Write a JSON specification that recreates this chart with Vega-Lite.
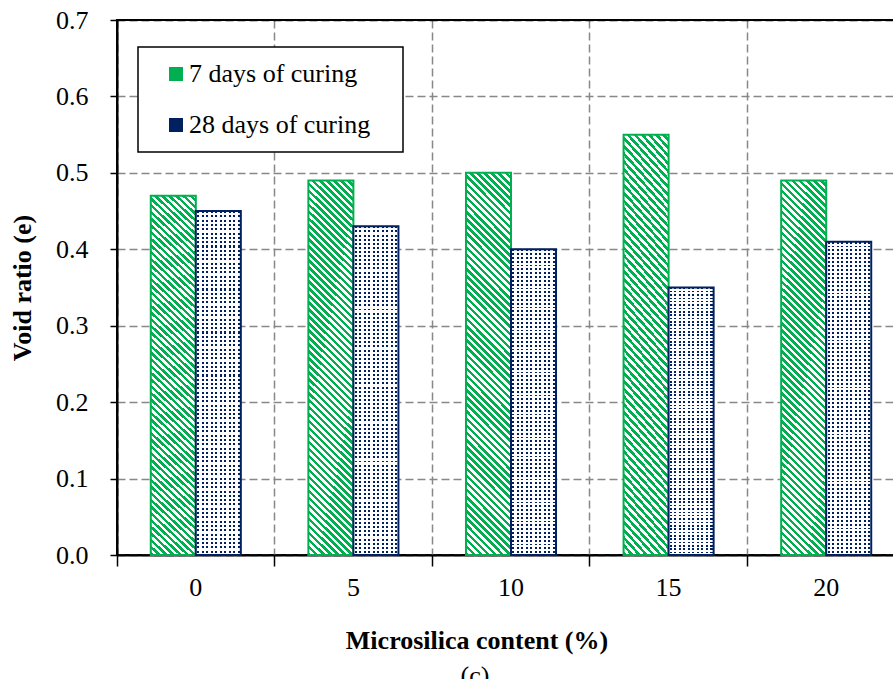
{
  "$schema": "https://vega.github.io/schema/vega-lite/v6.json",
  "width": 788,
  "height": 535,
  "autosize": "none",
  "padding": {"left": 117, "top": 20, "right": 0, "bottom": 124},
  "background": "white",
  "config": {"view": {"stroke": "black", "strokeWidth": 2}, "font": "Liberation Serif", "legend": {"labelFont": "Liberation Serif"}},
  "title": {"text": "(c)", "orient": "bottom", "anchor": "middle", "dx": -36, "offset": 10, "fontSize": 26, "fontWeight": "normal", "font": "Liberation Serif", "color": "black"},
  "data": {"values": [
    {"content": 0, "series": "7 days of curing", "e": 0.47},
    {"content": 0, "series": "28 days of curing", "e": 0.45},
    {"content": 5, "series": "7 days of curing", "e": 0.49},
    {"content": 5, "series": "28 days of curing", "e": 0.43},
    {"content": 10, "series": "7 days of curing", "e": 0.50},
    {"content": 10, "series": "28 days of curing", "e": 0.40},
    {"content": 15, "series": "7 days of curing", "e": 0.55},
    {"content": 15, "series": "28 days of curing", "e": 0.35},
    {"content": 20, "series": "7 days of curing", "e": 0.49},
    {"content": 20, "series": "28 days of curing", "e": 0.41}
  ]},
  "encoding": {
    "x": {
      "field": "content", "type": "ordinal",
      "scale": {"paddingInner": 0, "paddingOuter": 0},
      "axis": {
        "title": "Microsilica content (%)", "titleFont": "Liberation Serif", "titleFontSize": 26, "titleFontWeight": "bold", "titleColor": "black",
        "titleX": 359.5, "titleY": 93, "titleBaseline": "alphabetic", "titleAlign": "center",
        "labelAngle": 0, "labelFont": "Liberation Serif", "labelFontSize": 26, "labelColor": "black", "labelPadding": 8,
        "bandPosition": 0, "tickSize": 11, "tickColor": "black", "tickWidth": 1.5, "domainColor": "black", "domainWidth": 2,
        "grid": true, "gridColor": {"condition": {"test": "datum.value == 0", "value": "black"}, "value": "#888888"}, "gridDash": [8, 4], "gridWidth": 1.5
      }
    },
    "xOffset": {"field": "series", "type": "nominal", "scale": {"domain": ["7 days of curing", "28 days of curing"], "paddingInner": 0, "paddingOuter": 0.75}},
    "y": {
      "field": "e", "type": "quantitative",
      "scale": {"domain": [0, 0.7], "nice": false},
      "axis": {
        "title": "Void ratio (e)", "titleFont": "Liberation Serif", "titleFontSize": 26, "titleFontWeight": "bold", "titleColor": "black", "titlePadding": 20,
        "values": [0, 0.1, 0.2, 0.3, 0.4, 0.5, 0.6, 0.7], "format": ".1f",
        "labelFont": "Liberation Serif", "labelFontSize": 26, "labelColor": "black", "labelPadding": 22,
        "tickSize": 7, "tickColor": "black", "tickWidth": 1.5, "domainColor": "black", "domainWidth": 2,
        "grid": true, "gridColor": {"condition": {"test": "datum.value >= 0.69", "value": "black"}, "value": "#888888"}, "gridDash": [8, 4], "gridWidth": 1.5
      }
    }
  },
  "layer": [
    {
      "mark": {"type": "bar"},
      "encoding": {
        "color": {
          "field": "series", "type": "nominal",
          "scale": {"domain": ["7 days of curing", "28 days of curing"], "range": ["#00B050", "#002060"]},
          "legend": {
            "title": "i", "titleOrient": "right", "titleFontSize": 10, "titleOpacity": 0, "titlePadding": 16,
            "orient": "none", "legendX": 21, "legendY": 27, "direction": "vertical",
            "fillColor": "white", "strokeColor": "black", "padding": 14,
            "symbolType": "square", "symbolSize": 196, "symbolOffset": 11, "symbolStrokeWidth": 0,
            "labelFont": "Liberation Serif", "labelFontSize": 26, "labelColor": "black", "labelOffset": 0, "labelLimit": 400,
            "rowPadding": 25,
            "encode": {"legend": {"update": {"strokeWidth": {"value": 1.5}}}}
          }
        }
      }
    },
    {
      "transform": [{"filter": "datum.series === '7 days of curing'"}],
      "mark": {
        "type": "bar", "stroke": "#00B050", "strokeWidth": 2,
        "fill": {"gradient": "linear", "x1": 0, "y1": 1, "x2": 0.1306, "y2": -0.103, "stops": [
          {"offset":0,"color":"#00B050"},
          {"offset":0.0083,"color":"#00B050"},{"offset":0.0083,"color":"#fff"},
          {"offset":0.0167,"color":"#fff"},{"offset":0.0167,"color":"#00B050"},
          {"offset":0.025,"color":"#00B050"},{"offset":0.025,"color":"#fff"},
          {"offset":0.0333,"color":"#fff"},{"offset":0.0333,"color":"#00B050"},
          {"offset":0.0417,"color":"#00B050"},{"offset":0.0417,"color":"#fff"},
          {"offset":0.05,"color":"#fff"},{"offset":0.05,"color":"#00B050"},
          {"offset":0.0583,"color":"#00B050"},{"offset":0.0583,"color":"#fff"},
          {"offset":0.0667,"color":"#fff"},{"offset":0.0667,"color":"#00B050"},
          {"offset":0.075,"color":"#00B050"},{"offset":0.075,"color":"#fff"},
          {"offset":0.0833,"color":"#fff"},{"offset":0.0833,"color":"#00B050"},
          {"offset":0.0917,"color":"#00B050"},{"offset":0.0917,"color":"#fff"},
          {"offset":0.1,"color":"#fff"},{"offset":0.1,"color":"#00B050"},
          {"offset":0.1083,"color":"#00B050"},{"offset":0.1083,"color":"#fff"},
          {"offset":0.1167,"color":"#fff"},{"offset":0.1167,"color":"#00B050"},
          {"offset":0.125,"color":"#00B050"},{"offset":0.125,"color":"#fff"},
          {"offset":0.1333,"color":"#fff"},{"offset":0.1333,"color":"#00B050"},
          {"offset":0.1417,"color":"#00B050"},{"offset":0.1417,"color":"#fff"},
          {"offset":0.15,"color":"#fff"},{"offset":0.15,"color":"#00B050"},
          {"offset":0.1583,"color":"#00B050"},{"offset":0.1583,"color":"#fff"},
          {"offset":0.1667,"color":"#fff"},{"offset":0.1667,"color":"#00B050"},
          {"offset":0.175,"color":"#00B050"},{"offset":0.175,"color":"#fff"},
          {"offset":0.1833,"color":"#fff"},{"offset":0.1833,"color":"#00B050"},
          {"offset":0.1917,"color":"#00B050"},{"offset":0.1917,"color":"#fff"},
          {"offset":0.2,"color":"#fff"},{"offset":0.2,"color":"#00B050"},
          {"offset":0.2083,"color":"#00B050"},{"offset":0.2083,"color":"#fff"},
          {"offset":0.2167,"color":"#fff"},{"offset":0.2167,"color":"#00B050"},
          {"offset":0.225,"color":"#00B050"},{"offset":0.225,"color":"#fff"},
          {"offset":0.2333,"color":"#fff"},{"offset":0.2333,"color":"#00B050"},
          {"offset":0.2417,"color":"#00B050"},{"offset":0.2417,"color":"#fff"},
          {"offset":0.25,"color":"#fff"},{"offset":0.25,"color":"#00B050"},
          {"offset":0.2583,"color":"#00B050"},{"offset":0.2583,"color":"#fff"},
          {"offset":0.2667,"color":"#fff"},{"offset":0.2667,"color":"#00B050"},
          {"offset":0.275,"color":"#00B050"},{"offset":0.275,"color":"#fff"},
          {"offset":0.2833,"color":"#fff"},{"offset":0.2833,"color":"#00B050"},
          {"offset":0.2917,"color":"#00B050"},{"offset":0.2917,"color":"#fff"},
          {"offset":0.3,"color":"#fff"},{"offset":0.3,"color":"#00B050"},
          {"offset":0.3083,"color":"#00B050"},{"offset":0.3083,"color":"#fff"},
          {"offset":0.3167,"color":"#fff"},{"offset":0.3167,"color":"#00B050"},
          {"offset":0.325,"color":"#00B050"},{"offset":0.325,"color":"#fff"},
          {"offset":0.3333,"color":"#fff"},{"offset":0.3333,"color":"#00B050"},
          {"offset":0.3417,"color":"#00B050"},{"offset":0.3417,"color":"#fff"},
          {"offset":0.35,"color":"#fff"},{"offset":0.35,"color":"#00B050"},
          {"offset":0.3583,"color":"#00B050"},{"offset":0.3583,"color":"#fff"},
          {"offset":0.3667,"color":"#fff"},{"offset":0.3667,"color":"#00B050"},
          {"offset":0.375,"color":"#00B050"},{"offset":0.375,"color":"#fff"},
          {"offset":0.3833,"color":"#fff"},{"offset":0.3833,"color":"#00B050"},
          {"offset":0.3917,"color":"#00B050"},{"offset":0.3917,"color":"#fff"},
          {"offset":0.4,"color":"#fff"},{"offset":0.4,"color":"#00B050"},
          {"offset":0.4083,"color":"#00B050"},{"offset":0.4083,"color":"#fff"},
          {"offset":0.4167,"color":"#fff"},{"offset":0.4167,"color":"#00B050"},
          {"offset":0.425,"color":"#00B050"},{"offset":0.425,"color":"#fff"},
          {"offset":0.4333,"color":"#fff"},{"offset":0.4333,"color":"#00B050"},
          {"offset":0.4417,"color":"#00B050"},{"offset":0.4417,"color":"#fff"},
          {"offset":0.45,"color":"#fff"},{"offset":0.45,"color":"#00B050"},
          {"offset":0.4583,"color":"#00B050"},{"offset":0.4583,"color":"#fff"},
          {"offset":0.4667,"color":"#fff"},{"offset":0.4667,"color":"#00B050"},
          {"offset":0.475,"color":"#00B050"},{"offset":0.475,"color":"#fff"},
          {"offset":0.4833,"color":"#fff"},{"offset":0.4833,"color":"#00B050"},
          {"offset":0.4917,"color":"#00B050"},{"offset":0.4917,"color":"#fff"},
          {"offset":0.5,"color":"#fff"},{"offset":0.5,"color":"#00B050"},
          {"offset":0.5083,"color":"#00B050"},{"offset":0.5083,"color":"#fff"},
          {"offset":0.5167,"color":"#fff"},{"offset":0.5167,"color":"#00B050"},
          {"offset":0.525,"color":"#00B050"},{"offset":0.525,"color":"#fff"},
          {"offset":0.5333,"color":"#fff"},{"offset":0.5333,"color":"#00B050"},
          {"offset":0.5417,"color":"#00B050"},{"offset":0.5417,"color":"#fff"},
          {"offset":0.55,"color":"#fff"},{"offset":0.55,"color":"#00B050"},
          {"offset":0.5583,"color":"#00B050"},{"offset":0.5583,"color":"#fff"},
          {"offset":0.5667,"color":"#fff"},{"offset":0.5667,"color":"#00B050"},
          {"offset":0.575,"color":"#00B050"},{"offset":0.575,"color":"#fff"},
          {"offset":0.5833,"color":"#fff"},{"offset":0.5833,"color":"#00B050"},
          {"offset":0.5917,"color":"#00B050"},{"offset":0.5917,"color":"#fff"},
          {"offset":0.6,"color":"#fff"},{"offset":0.6,"color":"#00B050"},
          {"offset":0.6083,"color":"#00B050"},{"offset":0.6083,"color":"#fff"},
          {"offset":0.6167,"color":"#fff"},{"offset":0.6167,"color":"#00B050"},
          {"offset":0.625,"color":"#00B050"},{"offset":0.625,"color":"#fff"},
          {"offset":0.6333,"color":"#fff"},{"offset":0.6333,"color":"#00B050"},
          {"offset":0.6417,"color":"#00B050"},{"offset":0.6417,"color":"#fff"},
          {"offset":0.65,"color":"#fff"},{"offset":0.65,"color":"#00B050"},
          {"offset":0.6583,"color":"#00B050"},{"offset":0.6583,"color":"#fff"},
          {"offset":0.6667,"color":"#fff"},{"offset":0.6667,"color":"#00B050"},
          {"offset":0.675,"color":"#00B050"},{"offset":0.675,"color":"#fff"},
          {"offset":0.6833,"color":"#fff"},{"offset":0.6833,"color":"#00B050"},
          {"offset":0.6917,"color":"#00B050"},{"offset":0.6917,"color":"#fff"},
          {"offset":0.7,"color":"#fff"},{"offset":0.7,"color":"#00B050"},
          {"offset":0.7083,"color":"#00B050"},{"offset":0.7083,"color":"#fff"},
          {"offset":0.7167,"color":"#fff"},{"offset":0.7167,"color":"#00B050"},
          {"offset":0.725,"color":"#00B050"},{"offset":0.725,"color":"#fff"},
          {"offset":0.7333,"color":"#fff"},{"offset":0.7333,"color":"#00B050"},
          {"offset":0.7417,"color":"#00B050"},{"offset":0.7417,"color":"#fff"},
          {"offset":0.75,"color":"#fff"},{"offset":0.75,"color":"#00B050"},
          {"offset":0.7583,"color":"#00B050"},{"offset":0.7583,"color":"#fff"},
          {"offset":0.7667,"color":"#fff"},{"offset":0.7667,"color":"#00B050"},
          {"offset":0.775,"color":"#00B050"},{"offset":0.775,"color":"#fff"},
          {"offset":0.7833,"color":"#fff"},{"offset":0.7833,"color":"#00B050"},
          {"offset":0.7917,"color":"#00B050"},{"offset":0.7917,"color":"#fff"},
          {"offset":0.8,"color":"#fff"},{"offset":0.8,"color":"#00B050"},
          {"offset":0.8083,"color":"#00B050"},{"offset":0.8083,"color":"#fff"},
          {"offset":0.8167,"color":"#fff"},{"offset":0.8167,"color":"#00B050"},
          {"offset":0.825,"color":"#00B050"},{"offset":0.825,"color":"#fff"},
          {"offset":0.8333,"color":"#fff"},{"offset":0.8333,"color":"#00B050"},
          {"offset":0.8417,"color":"#00B050"},{"offset":0.8417,"color":"#fff"},
          {"offset":0.85,"color":"#fff"},{"offset":0.85,"color":"#00B050"},
          {"offset":0.8583,"color":"#00B050"},{"offset":0.8583,"color":"#fff"},
          {"offset":0.8667,"color":"#fff"},{"offset":0.8667,"color":"#00B050"},
          {"offset":0.875,"color":"#00B050"},{"offset":0.875,"color":"#fff"},
          {"offset":0.8833,"color":"#fff"},{"offset":0.8833,"color":"#00B050"},
          {"offset":0.8917,"color":"#00B050"},{"offset":0.8917,"color":"#fff"},
          {"offset":0.9,"color":"#fff"},{"offset":0.9,"color":"#00B050"},
          {"offset":0.9083,"color":"#00B050"},{"offset":0.9083,"color":"#fff"},
          {"offset":0.9167,"color":"#fff"},{"offset":0.9167,"color":"#00B050"},
          {"offset":0.925,"color":"#00B050"},{"offset":0.925,"color":"#fff"},
          {"offset":0.9333,"color":"#fff"},{"offset":0.9333,"color":"#00B050"},
          {"offset":0.9417,"color":"#00B050"},{"offset":0.9417,"color":"#fff"},
          {"offset":0.95,"color":"#fff"},{"offset":0.95,"color":"#00B050"},
          {"offset":0.9583,"color":"#00B050"},{"offset":0.9583,"color":"#fff"},
          {"offset":0.9667,"color":"#fff"},{"offset":0.9667,"color":"#00B050"},
          {"offset":0.975,"color":"#00B050"},{"offset":0.975,"color":"#fff"},
          {"offset":0.9833,"color":"#fff"},{"offset":0.9833,"color":"#00B050"},
          {"offset":0.9917,"color":"#00B050"},{"offset":0.9917,"color":"#fff"},
          {"offset":1,"color":"#fff"}
        ]}
      }
    },
    {
      "transform": [{"filter": "datum.series === '28 days of curing'"}],
      "mark": {
        "type": "bar",
        "fill": {"gradient": "linear", "x1": 0, "y1": 0, "x2": 0, "y2": 1, "stops": [
          {"offset":0,"color":"transparent"},{"offset":0.006,"color":"transparent"},{"offset":0.006,"color":"#fff"},{"offset":0.0125,"color":"#fff"},
          {"offset":0.0125,"color":"transparent"},{"offset":0.0185,"color":"transparent"},{"offset":0.0185,"color":"#fff"},{"offset":0.025,"color":"#fff"},
          {"offset":0.025,"color":"transparent"},{"offset":0.031,"color":"transparent"},{"offset":0.031,"color":"#fff"},{"offset":0.0375,"color":"#fff"},
          {"offset":0.0375,"color":"transparent"},{"offset":0.0435,"color":"transparent"},{"offset":0.0435,"color":"#fff"},{"offset":0.05,"color":"#fff"},
          {"offset":0.05,"color":"transparent"},{"offset":0.056,"color":"transparent"},{"offset":0.056,"color":"#fff"},{"offset":0.0625,"color":"#fff"},
          {"offset":0.0625,"color":"transparent"},{"offset":0.0685,"color":"transparent"},{"offset":0.0685,"color":"#fff"},{"offset":0.075,"color":"#fff"},
          {"offset":0.075,"color":"transparent"},{"offset":0.081,"color":"transparent"},{"offset":0.081,"color":"#fff"},{"offset":0.0875,"color":"#fff"},
          {"offset":0.0875,"color":"transparent"},{"offset":0.0935,"color":"transparent"},{"offset":0.0935,"color":"#fff"},{"offset":0.1,"color":"#fff"},
          {"offset":0.1,"color":"transparent"},{"offset":0.106,"color":"transparent"},{"offset":0.106,"color":"#fff"},{"offset":0.1125,"color":"#fff"},
          {"offset":0.1125,"color":"transparent"},{"offset":0.1185,"color":"transparent"},{"offset":0.1185,"color":"#fff"},{"offset":0.125,"color":"#fff"},
          {"offset":0.125,"color":"transparent"},{"offset":0.131,"color":"transparent"},{"offset":0.131,"color":"#fff"},{"offset":0.1375,"color":"#fff"},
          {"offset":0.1375,"color":"transparent"},{"offset":0.1435,"color":"transparent"},{"offset":0.1435,"color":"#fff"},{"offset":0.15,"color":"#fff"},
          {"offset":0.15,"color":"transparent"},{"offset":0.156,"color":"transparent"},{"offset":0.156,"color":"#fff"},{"offset":0.1625,"color":"#fff"},
          {"offset":0.1625,"color":"transparent"},{"offset":0.1685,"color":"transparent"},{"offset":0.1685,"color":"#fff"},{"offset":0.175,"color":"#fff"},
          {"offset":0.175,"color":"transparent"},{"offset":0.181,"color":"transparent"},{"offset":0.181,"color":"#fff"},{"offset":0.1875,"color":"#fff"},
          {"offset":0.1875,"color":"transparent"},{"offset":0.1935,"color":"transparent"},{"offset":0.1935,"color":"#fff"},{"offset":0.2,"color":"#fff"},
          {"offset":0.2,"color":"transparent"},{"offset":0.206,"color":"transparent"},{"offset":0.206,"color":"#fff"},{"offset":0.2125,"color":"#fff"},
          {"offset":0.2125,"color":"transparent"},{"offset":0.2185,"color":"transparent"},{"offset":0.2185,"color":"#fff"},{"offset":0.225,"color":"#fff"},
          {"offset":0.225,"color":"transparent"},{"offset":0.231,"color":"transparent"},{"offset":0.231,"color":"#fff"},{"offset":0.2375,"color":"#fff"},
          {"offset":0.2375,"color":"transparent"},{"offset":0.2435,"color":"transparent"},{"offset":0.2435,"color":"#fff"},{"offset":0.25,"color":"#fff"},
          {"offset":0.25,"color":"transparent"},{"offset":0.256,"color":"transparent"},{"offset":0.256,"color":"#fff"},{"offset":0.2625,"color":"#fff"},
          {"offset":0.2625,"color":"transparent"},{"offset":0.2685,"color":"transparent"},{"offset":0.2685,"color":"#fff"},{"offset":0.275,"color":"#fff"},
          {"offset":0.275,"color":"transparent"},{"offset":0.281,"color":"transparent"},{"offset":0.281,"color":"#fff"},{"offset":0.2875,"color":"#fff"},
          {"offset":0.2875,"color":"transparent"},{"offset":0.2935,"color":"transparent"},{"offset":0.2935,"color":"#fff"},{"offset":0.3,"color":"#fff"},
          {"offset":0.3,"color":"transparent"},{"offset":0.306,"color":"transparent"},{"offset":0.306,"color":"#fff"},{"offset":0.3125,"color":"#fff"},
          {"offset":0.3125,"color":"transparent"},{"offset":0.3185,"color":"transparent"},{"offset":0.3185,"color":"#fff"},{"offset":0.325,"color":"#fff"},
          {"offset":0.325,"color":"transparent"},{"offset":0.331,"color":"transparent"},{"offset":0.331,"color":"#fff"},{"offset":0.3375,"color":"#fff"},
          {"offset":0.3375,"color":"transparent"},{"offset":0.3435,"color":"transparent"},{"offset":0.3435,"color":"#fff"},{"offset":0.35,"color":"#fff"},
          {"offset":0.35,"color":"transparent"},{"offset":0.356,"color":"transparent"},{"offset":0.356,"color":"#fff"},{"offset":0.3625,"color":"#fff"},
          {"offset":0.3625,"color":"transparent"},{"offset":0.3685,"color":"transparent"},{"offset":0.3685,"color":"#fff"},{"offset":0.375,"color":"#fff"},
          {"offset":0.375,"color":"transparent"},{"offset":0.381,"color":"transparent"},{"offset":0.381,"color":"#fff"},{"offset":0.3875,"color":"#fff"},
          {"offset":0.3875,"color":"transparent"},{"offset":0.3935,"color":"transparent"},{"offset":0.3935,"color":"#fff"},{"offset":0.4,"color":"#fff"},
          {"offset":0.4,"color":"transparent"},{"offset":0.406,"color":"transparent"},{"offset":0.406,"color":"#fff"},{"offset":0.4125,"color":"#fff"},
          {"offset":0.4125,"color":"transparent"},{"offset":0.4185,"color":"transparent"},{"offset":0.4185,"color":"#fff"},{"offset":0.425,"color":"#fff"},
          {"offset":0.425,"color":"transparent"},{"offset":0.431,"color":"transparent"},{"offset":0.431,"color":"#fff"},{"offset":0.4375,"color":"#fff"},
          {"offset":0.4375,"color":"transparent"},{"offset":0.4435,"color":"transparent"},{"offset":0.4435,"color":"#fff"},{"offset":0.45,"color":"#fff"},
          {"offset":0.45,"color":"transparent"},{"offset":0.456,"color":"transparent"},{"offset":0.456,"color":"#fff"},{"offset":0.4625,"color":"#fff"},
          {"offset":0.4625,"color":"transparent"},{"offset":0.4685,"color":"transparent"},{"offset":0.4685,"color":"#fff"},{"offset":0.475,"color":"#fff"},
          {"offset":0.475,"color":"transparent"},{"offset":0.481,"color":"transparent"},{"offset":0.481,"color":"#fff"},{"offset":0.4875,"color":"#fff"},
          {"offset":0.4875,"color":"transparent"},{"offset":0.4935,"color":"transparent"},{"offset":0.4935,"color":"#fff"},{"offset":0.5,"color":"#fff"},
          {"offset":0.5,"color":"transparent"},{"offset":0.506,"color":"transparent"},{"offset":0.506,"color":"#fff"},{"offset":0.5125,"color":"#fff"},
          {"offset":0.5125,"color":"transparent"},{"offset":0.5185,"color":"transparent"},{"offset":0.5185,"color":"#fff"},{"offset":0.525,"color":"#fff"},
          {"offset":0.525,"color":"transparent"},{"offset":0.531,"color":"transparent"},{"offset":0.531,"color":"#fff"},{"offset":0.5375,"color":"#fff"},
          {"offset":0.5375,"color":"transparent"},{"offset":0.5435,"color":"transparent"},{"offset":0.5435,"color":"#fff"},{"offset":0.55,"color":"#fff"},
          {"offset":0.55,"color":"transparent"},{"offset":0.556,"color":"transparent"},{"offset":0.556,"color":"#fff"},{"offset":0.5625,"color":"#fff"},
          {"offset":0.5625,"color":"transparent"},{"offset":0.5685,"color":"transparent"},{"offset":0.5685,"color":"#fff"},{"offset":0.575,"color":"#fff"},
          {"offset":0.575,"color":"transparent"},{"offset":0.581,"color":"transparent"},{"offset":0.581,"color":"#fff"},{"offset":0.5875,"color":"#fff"},
          {"offset":0.5875,"color":"transparent"},{"offset":0.5935,"color":"transparent"},{"offset":0.5935,"color":"#fff"},{"offset":0.6,"color":"#fff"},
          {"offset":0.6,"color":"transparent"},{"offset":0.606,"color":"transparent"},{"offset":0.606,"color":"#fff"},{"offset":0.6125,"color":"#fff"},
          {"offset":0.6125,"color":"transparent"},{"offset":0.6185,"color":"transparent"},{"offset":0.6185,"color":"#fff"},{"offset":0.625,"color":"#fff"},
          {"offset":0.625,"color":"transparent"},{"offset":0.631,"color":"transparent"},{"offset":0.631,"color":"#fff"},{"offset":0.6375,"color":"#fff"},
          {"offset":0.6375,"color":"transparent"},{"offset":0.6435,"color":"transparent"},{"offset":0.6435,"color":"#fff"},{"offset":0.65,"color":"#fff"},
          {"offset":0.65,"color":"transparent"},{"offset":0.656,"color":"transparent"},{"offset":0.656,"color":"#fff"},{"offset":0.6625,"color":"#fff"},
          {"offset":0.6625,"color":"transparent"},{"offset":0.6685,"color":"transparent"},{"offset":0.6685,"color":"#fff"},{"offset":0.675,"color":"#fff"},
          {"offset":0.675,"color":"transparent"},{"offset":0.681,"color":"transparent"},{"offset":0.681,"color":"#fff"},{"offset":0.6875,"color":"#fff"},
          {"offset":0.6875,"color":"transparent"},{"offset":0.6935,"color":"transparent"},{"offset":0.6935,"color":"#fff"},{"offset":0.7,"color":"#fff"},
          {"offset":0.7,"color":"transparent"},{"offset":0.706,"color":"transparent"},{"offset":0.706,"color":"#fff"},{"offset":0.7125,"color":"#fff"},
          {"offset":0.7125,"color":"transparent"},{"offset":0.7185,"color":"transparent"},{"offset":0.7185,"color":"#fff"},{"offset":0.725,"color":"#fff"},
          {"offset":0.725,"color":"transparent"},{"offset":0.731,"color":"transparent"},{"offset":0.731,"color":"#fff"},{"offset":0.7375,"color":"#fff"},
          {"offset":0.7375,"color":"transparent"},{"offset":0.7435,"color":"transparent"},{"offset":0.7435,"color":"#fff"},{"offset":0.75,"color":"#fff"},
          {"offset":0.75,"color":"transparent"},{"offset":0.756,"color":"transparent"},{"offset":0.756,"color":"#fff"},{"offset":0.7625,"color":"#fff"},
          {"offset":0.7625,"color":"transparent"},{"offset":0.7685,"color":"transparent"},{"offset":0.7685,"color":"#fff"},{"offset":0.775,"color":"#fff"},
          {"offset":0.775,"color":"transparent"},{"offset":0.781,"color":"transparent"},{"offset":0.781,"color":"#fff"},{"offset":0.7875,"color":"#fff"},
          {"offset":0.7875,"color":"transparent"},{"offset":0.7935,"color":"transparent"},{"offset":0.7935,"color":"#fff"},{"offset":0.8,"color":"#fff"},
          {"offset":0.8,"color":"transparent"},{"offset":0.806,"color":"transparent"},{"offset":0.806,"color":"#fff"},{"offset":0.8125,"color":"#fff"},
          {"offset":0.8125,"color":"transparent"},{"offset":0.8185,"color":"transparent"},{"offset":0.8185,"color":"#fff"},{"offset":0.825,"color":"#fff"},
          {"offset":0.825,"color":"transparent"},{"offset":0.831,"color":"transparent"},{"offset":0.831,"color":"#fff"},{"offset":0.8375,"color":"#fff"},
          {"offset":0.8375,"color":"transparent"},{"offset":0.8435,"color":"transparent"},{"offset":0.8435,"color":"#fff"},{"offset":0.85,"color":"#fff"},
          {"offset":0.85,"color":"transparent"},{"offset":0.856,"color":"transparent"},{"offset":0.856,"color":"#fff"},{"offset":0.8625,"color":"#fff"},
          {"offset":0.8625,"color":"transparent"},{"offset":0.8685,"color":"transparent"},{"offset":0.8685,"color":"#fff"},{"offset":0.875,"color":"#fff"},
          {"offset":0.875,"color":"transparent"},{"offset":0.881,"color":"transparent"},{"offset":0.881,"color":"#fff"},{"offset":0.8875,"color":"#fff"},
          {"offset":0.8875,"color":"transparent"},{"offset":0.8935,"color":"transparent"},{"offset":0.8935,"color":"#fff"},{"offset":0.9,"color":"#fff"},
          {"offset":0.9,"color":"transparent"},{"offset":0.906,"color":"transparent"},{"offset":0.906,"color":"#fff"},{"offset":0.9125,"color":"#fff"},
          {"offset":0.9125,"color":"transparent"},{"offset":0.9185,"color":"transparent"},{"offset":0.9185,"color":"#fff"},{"offset":0.925,"color":"#fff"},
          {"offset":0.925,"color":"transparent"},{"offset":0.931,"color":"transparent"},{"offset":0.931,"color":"#fff"},{"offset":0.9375,"color":"#fff"},
          {"offset":0.9375,"color":"transparent"},{"offset":0.9435,"color":"transparent"},{"offset":0.9435,"color":"#fff"},{"offset":0.95,"color":"#fff"},
          {"offset":0.95,"color":"transparent"},{"offset":0.956,"color":"transparent"},{"offset":0.956,"color":"#fff"},{"offset":0.9625,"color":"#fff"},
          {"offset":0.9625,"color":"transparent"},{"offset":0.9685,"color":"transparent"},{"offset":0.9685,"color":"#fff"},{"offset":0.975,"color":"#fff"},
          {"offset":0.975,"color":"transparent"},{"offset":0.981,"color":"transparent"},{"offset":0.981,"color":"#fff"},{"offset":0.9875,"color":"#fff"},
          {"offset":0.9875,"color":"transparent"},{"offset":0.9935,"color":"transparent"},{"offset":0.9935,"color":"#fff"},{"offset":1,"color":"#fff"}
        ]}
      }
    },
    {
      "transform": [{"filter": "datum.series === '28 days of curing'"}],
      "mark": {
        "type": "bar", "stroke": "#002060", "strokeWidth": 2,
        "fill": {"gradient": "linear", "x1": 0, "y1": 0, "x2": 1, "y2": 0, "stops": [
          {"offset":0,"color":"#fff"},{"offset":0.03,"color":"#fff"},{"offset":0.03,"color":"transparent"},{"offset":0.075,"color":"transparent"},{"offset":0.075,"color":"#fff"},
          {"offset":0.1,"color":"#fff"},{"offset":0.13,"color":"#fff"},{"offset":0.13,"color":"transparent"},{"offset":0.175,"color":"transparent"},{"offset":0.175,"color":"#fff"},
          {"offset":0.2,"color":"#fff"},{"offset":0.23,"color":"#fff"},{"offset":0.23,"color":"transparent"},{"offset":0.275,"color":"transparent"},{"offset":0.275,"color":"#fff"},
          {"offset":0.3,"color":"#fff"},{"offset":0.33,"color":"#fff"},{"offset":0.33,"color":"transparent"},{"offset":0.375,"color":"transparent"},{"offset":0.375,"color":"#fff"},
          {"offset":0.4,"color":"#fff"},{"offset":0.43,"color":"#fff"},{"offset":0.43,"color":"transparent"},{"offset":0.475,"color":"transparent"},{"offset":0.475,"color":"#fff"},
          {"offset":0.5,"color":"#fff"},{"offset":0.53,"color":"#fff"},{"offset":0.53,"color":"transparent"},{"offset":0.575,"color":"transparent"},{"offset":0.575,"color":"#fff"},
          {"offset":0.6,"color":"#fff"},{"offset":0.63,"color":"#fff"},{"offset":0.63,"color":"transparent"},{"offset":0.675,"color":"transparent"},{"offset":0.675,"color":"#fff"},
          {"offset":0.7,"color":"#fff"},{"offset":0.73,"color":"#fff"},{"offset":0.73,"color":"transparent"},{"offset":0.775,"color":"transparent"},{"offset":0.775,"color":"#fff"},
          {"offset":0.8,"color":"#fff"},{"offset":0.83,"color":"#fff"},{"offset":0.83,"color":"transparent"},{"offset":0.875,"color":"transparent"},{"offset":0.875,"color":"#fff"},
          {"offset":0.9,"color":"#fff"},{"offset":0.93,"color":"#fff"},{"offset":0.93,"color":"transparent"},{"offset":0.975,"color":"transparent"},{"offset":0.975,"color":"#fff"},
          {"offset":1,"color":"#fff"}
        ]}
      }
    }
  ]
}
